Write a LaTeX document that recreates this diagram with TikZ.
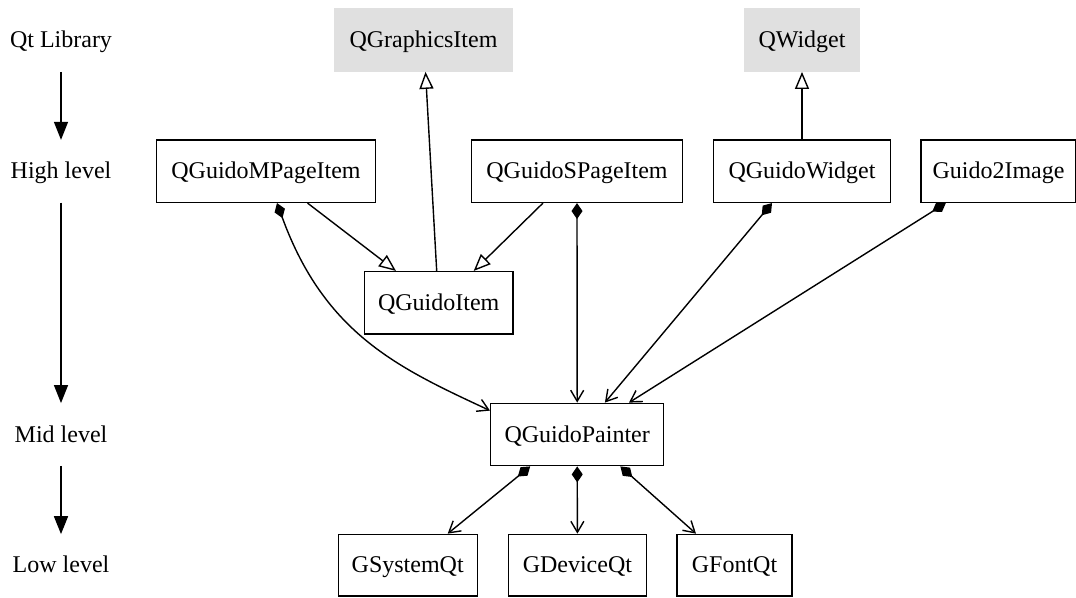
\documentclass[tikz,border=0pt]{standalone}
\usepackage{fontspec}
\setmainfont{Liberation Serif}
\usetikzlibrary{arrows.meta}
\definecolor{qtgray}{RGB}{224,224,224}
\begin{document}
\begin{tikzpicture}[x=1pt,y=1pt,
  txt/.style={inner sep=0pt, text height=15pt, text depth=0pt, font=\fontsize{24}{28}\selectfont},
  cls/.style={txt, draw, line width=1.4pt},
  qt/.style={txt, fill=qtgray},
  lvl/.style={txt},
  inherit/.style={-{Triangle[fill=white,length=17pt,width=14pt]}, line width=1.4pt},
  uses/.style={{Diamond[length=16pt,width=11pt]}-{Straight Barb[length=11pt,width=13pt]}, line width=1.4pt},
  flow/.style={-{Triangle[length=18pt,width=14pt]}, line width=1.5pt}
]
\useasboundingbox (0,0) rectangle (1076,-597);
% level labels
\node[lvl, minimum height=63.4pt] (ql) at (61,-40) {Qt Library};
\node[lvl, minimum height=62.3pt] (hl) at (61,-171.2) {High level};
\node[lvl, minimum height=62.4pt] (ml) at (61,-434.5) {Mid level};
\node[lvl, minimum height=61.7pt] (ll) at (61,-565.2) {Low level};
\draw[flow] (ql.south) -- (hl.north);
\draw[flow] (hl.south) -- (ml.north);
\draw[flow] (ml.south) -- (ll.north);
% Qt classes
\node[qt, minimum width=179pt, minimum height=63.4pt] (qgi) at (423.5,-40) {QGraphicsItem};
\node[qt, minimum width=116.4pt, minimum height=63.4pt] (qw) at (802,-40) {QWidget};
% high level
\node[cls, minimum width=218.6pt, minimum height=62.3pt] (mp) at (266,-171.2) {QGuidoMPageItem};
\node[cls, minimum width=211pt, minimum height=62.3pt] (sp) at (577,-171.2) {QGuidoSPageItem};
\node[cls, minimum width=177.4pt, minimum height=62.3pt] (gw) at (802,-171.2) {QGuidoWidget};
\node[cls, minimum width=155pt, minimum height=62.3pt] (g2i) at (998.5,-171.2) {Guido2Image};
\node[cls, minimum width=148.8pt, minimum height=62.3pt] (gi) at (438.7,-302.8) {QGuidoItem};
% mid level
\node[cls, minimum width=173pt, minimum height=62.4pt] (gp) at (577.2,-434.5) {QGuidoPainter};
% low level
\node[cls, minimum width=139pt, minimum height=61.7pt] (gs) at (407.7,-565.2) {GSystemQt};
\node[cls, minimum width=138pt, minimum height=61.7pt] (gd) at (577.4,-565.2) {GDeviceQt};
\node[cls, minimum width=114.7pt, minimum height=61.7pt] (gf) at (734.5,-565.2) {GFontQt};
% inheritance
\draw[inherit] ([xshift=-2pt]gi.north) -- ([xshift=2pt]qgi.south);
\draw[inherit] (gw.north) -- (qw.south);
\draw[inherit] ([xshift=41.5pt]mp.south) -- ([xshift=-42.7pt]gi.north);
\draw[inherit] ([xshift=-34pt]sp.south) -- ([xshift=35pt]gi.north);
% usage
\draw[uses] ([xshift=11pt]mp.south) to[out=-70,in=155,out distance=140pt,in distance=100pt] ([yshift=-8pt]gp.north west);
\draw[uses] (sp.south) -- (gp.north);
\draw[uses] ([xshift=-30pt]gw.south) -- ([xshift=27.7pt]gp.north);
\draw[uses] ([xshift=-52.7pt]g2i.south) -- ([xshift=51.8pt]gp.north);
\draw[uses] ([xshift=-47pt]gp.south) -- ([xshift=40pt]gs.north);
\draw[uses] (gp.south) -- (gd.north);
\draw[uses] ([xshift=43.2pt]gp.south) -- ([xshift=-38.5pt]gf.north);
\end{tikzpicture}
\end{document}
